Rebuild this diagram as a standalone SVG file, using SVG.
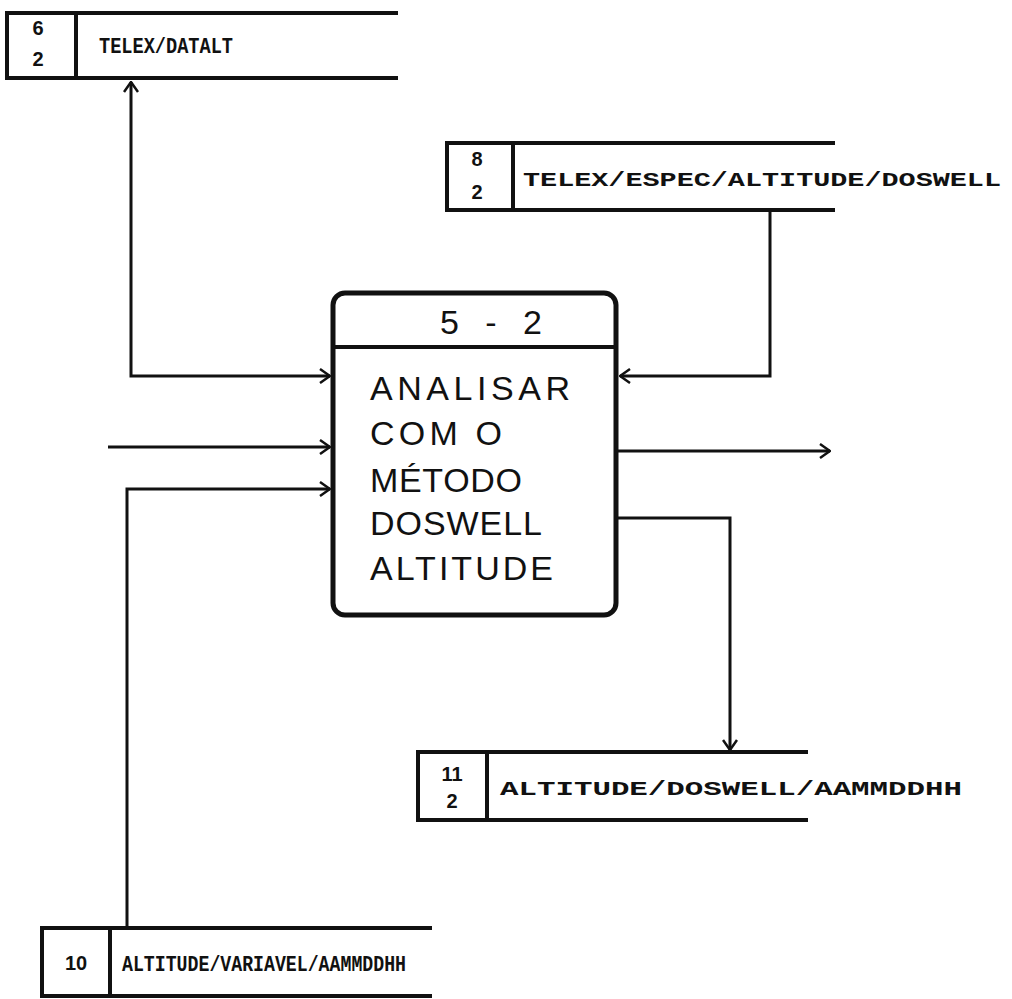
<svg xmlns="http://www.w3.org/2000/svg" width="1012" height="999" viewBox="0 0 1012 999">
<defs>
<style>
.st{fill:none;stroke:#111;stroke-width:4}
.cn{fill:none;stroke:#111;stroke-width:3}
.lbl{font-family:"Liberation Mono","DejaVu Sans Mono",monospace;font-weight:bold;font-size:21px;fill:#111}
.lbs{font-family:"Liberation Mono","DejaVu Sans Mono",monospace;font-weight:bold;font-size:22px;fill:#111}
.num{font-family:"Liberation Sans",Arial,sans-serif;font-weight:bold;font-size:20px;fill:#111;text-anchor:middle}
.pt{font-family:"Liberation Sans",Arial,sans-serif;font-size:34px;fill:#111}
</style>
<marker id="ah" viewBox="0 0 12 16" refX="11" refY="8" markerWidth="12" markerHeight="16" markerUnits="userSpaceOnUse" orient="auto-start-reverse">
<path d="M1,1 L11,8 L1,15" fill="none" stroke="#111" stroke-width="2.5"/>
</marker>
</defs>
<rect width="1012" height="999" fill="#fff"/>

<g id="connectors">
<path class="cn" d="M131,82 L131,376 L330,376" marker-start="url(#ah)" marker-end="url(#ah)"/>
<path class="cn" d="M108,447 L330,447" marker-end="url(#ah)"/>
<path class="cn" d="M127,926 L127,489 L330,489" marker-end="url(#ah)"/>
<path class="cn" d="M770,212 L770,376 L620,376" marker-end="url(#ah)"/>
<path class="cn" d="M618,451 L830,451" marker-end="url(#ah)"/>
<path class="cn" d="M618,518 L730,518 L730,750" marker-end="url(#ah)"/>
</g>

<g id="process-5-2">
<rect x="333" y="293" width="283" height="322" rx="12" ry="12" fill="#fff" stroke="#111" stroke-width="5"/>
<line x1="333" y1="347" x2="616" y2="347" stroke="#111" stroke-width="4"/>
<text class="pt" x="491" y="334" text-anchor="middle" textLength="102" lengthAdjust="spacing">5 - 2</text>
<text class="pt" x="370" y="400" textLength="200" lengthAdjust="spacing">ANALISAR</text>
<text class="pt" x="370" y="445" textLength="132" lengthAdjust="spacing">COM O</text>
<text class="pt" x="370" y="492" textLength="152" lengthAdjust="spacing">MÉTODO</text>
<text class="pt" x="370" y="535" textLength="172" lengthAdjust="spacing">DOSWELL</text>
<text class="pt" x="370" y="580" textLength="183" lengthAdjust="spacing">ALTITUDE</text>
</g>

<g id="store-6-2">
<path class="st" d="M398,13 L7,13 L7,78 L398,78 M76,13 L76,78"/>
<text class="num" x="38" y="35">6</text>
<text class="num" x="38" y="66">2</text>
<text class="lbs" x="99" y="53" textLength="134" lengthAdjust="spacingAndGlyphs">TELEX/DATALT</text>
</g>

<g id="store-8-2">
<path class="st" d="M835,143 L447,143 L447,210 L835,210 M513,143 L513,210"/>
<text class="num" x="477" y="166">8</text>
<text class="num" x="477" y="199">2</text>
<text class="lbl" x="523" y="186" textLength="478" lengthAdjust="spacingAndGlyphs">TELEX/ESPEC/ALTITUDE/DOSWELL</text>
</g>

<g id="store-11-2">
<path class="st" d="M808,752 L418,752 L418,820 L808,820 M487,752 L487,820"/>
<text class="num" x="452" y="781">11</text>
<text class="num" x="452" y="808">2</text>
<text class="lbl" x="500" y="795" textLength="462" lengthAdjust="spacingAndGlyphs">ALTITUDE/DOSWELL/AAMMDDHH</text>
</g>

<g id="store-10">
<path class="st" d="M432,928 L42,928 L42,996 L432,996 M110,928 L110,996"/>
<text class="num" x="76" y="970">10</text>
<text class="lbs" x="122" y="971" textLength="284" lengthAdjust="spacingAndGlyphs">ALTITUDE/VARIAVEL/AAMMDDHH</text>
</g>
</svg>
